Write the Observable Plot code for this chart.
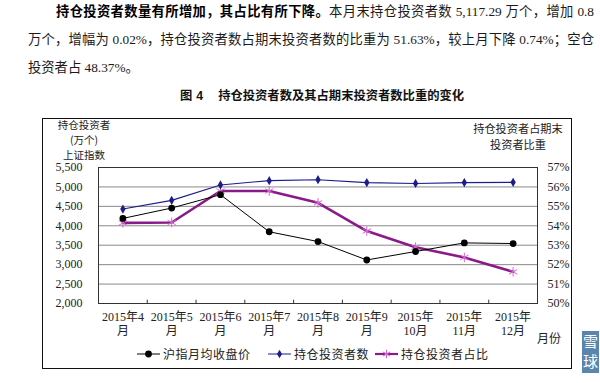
<!DOCTYPE html>
<html>
<head>
<meta charset="utf-8">
<script src="https://cdn.jsdelivr.net/npm/d3@7"></script>
<script src="https://cdn.jsdelivr.net/npm/@observablehq/plot@0.6"></script>
<style>
  html, body { margin: 0; padding: 0; background: #fff; }
  body { width: 600px; height: 383px; position: relative; overflow: hidden;
         font-family: "Liberation Serif", "Noto Sans CJK SC", serif; color: #1a1a1a; }
  .abs { position: absolute; }
  .pline { font-size: 13.3px; line-height: 18px; height: 18px; white-space: nowrap; }
  .just { text-align: justify; text-align-last: justify; white-space: normal; overflow: hidden; }
  #l1 { left: 56px; top: 2px; width: 538px; }
  #l2 { left: 28px; top: 31px; width: 566px; }
  #l3 { left: 28px; top: 59px; }
  .bold { font-family: "Noto Sans CJK SC", sans-serif; font-weight: 700; color: #000; }
  #caption { left: 180px; top: 87px; font-family: "Noto Sans CJK SC", sans-serif; font-weight: 700;
             font-size: 12.3px; line-height: 16px; color: #111; white-space: nowrap; }
  #chart { left: 42px; top: 118px; }
  #box { left: 42px; top: 118px; width: 530px; height: 251px; box-sizing: border-box;
         border: 1.5px solid #111; pointer-events: none; }
  .title { font-family: "Noto Sans CJK SC", sans-serif; font-size: 10.5px; line-height: 13px;
           text-align: center; color: #222; white-space: nowrap; }
  .tl { position: absolute; left: 0; width: 100%; height: 13px; line-height: 13px; }
  #ltitle { left: 34px; top: 118px; width: 100px; height: 44px; }
  #rtitle { left: 458px; top: 122px; width: 120px; height: 30px; font-size: 11.2px; }
  #unit { left: 537px; top: 329px; font-family: "Noto Sans CJK SC", sans-serif; font-size: 12px; color: #222; }
  #legend { left: 0; top: 346px; width: 600px; height: 16px; font-family: "Noto Sans CJK SC", sans-serif;
            font-size: 12px; letter-spacing: 0.5px; color: #222; }
  .item { position: absolute; top: 0; height: 16px; line-height: 16px; white-space: nowrap; }
  .item svg { position: absolute; left: 0; top: 0; }
  .item span { position: absolute; top: 0; }
  #badge { left: 582px; top: 331px; width: 17px; height: 42px; background: #5a86ae; color: #fff;
           font-family: "Noto Sans CJK SC", sans-serif; font-size: 15px; line-height: 20px; text-align: center; }
</style>
</head>
<body>
<div id="l1" class="abs pline just"><span class="bold">持仓投资者数量有所增加，其占比有所下降。</span><span>本月末持仓投资者数 5,117.29 万个，增加 0.8</span></div>
<div id="l2" class="abs pline just">万个，增幅为 0.02%，持仓投资者数占期末投资者数的比重为 51.63%，较上月下降 0.74%；空仓</div>
<div id="l3" class="abs pline">投资者占 48.37%。</div>
<div id="caption" class="abs"><span style="margin-right:4px">图</span><span style="margin-right:15px;font-family:'Liberation Sans',sans-serif">4</span><span>持仓投资者数及其占期末投资者数比重的变化</span></div>
<div id="chart" class="abs"></div>
<div id="box" class="abs"></div>
<div id="ltitle" class="abs title"><div class="tl" style="top:0">持仓投资者</div><div class="tl" style="top:15px">(万个)</div><div class="tl" style="top:30px">上证指数</div></div>
<div id="rtitle" class="abs title"><div class="tl" style="top:0">持仓投资者占期末</div><div class="tl" style="top:16px">投资者比重</div></div>
<div id="unit" class="abs">月份</div>
<div id="legend" class="abs"></div>
<div id="badge" class="abs">雪<br>球</div>
<script>
// ---- data ----
const monthLabels = ["2015年4\n月", "2015年5\n月", "2015年6\n月", "2015年7\n月", "2015年8\n月",
                     "2015年9\n月", "2015年\n10月", "2015年\n11月", "2015年\n12月"];
const shIndex  = [4190, 4457, 4800, 3846, 3594, 3120, 3338, 3560, 3543];       // 沪指月均收盘价
const holders  = [4430, 4654, 5051, 5162, 5185, 5111, 5089, 5111, 5117.29];    // 持仓投资者数（万个）
const share    = [54.15, 54.17, 55.79, 55.79, 55.18, 53.73, 52.90, 52.37, 51.63]; // 持仓投资者占比 %
const leftTicks = [2000, 2500, 3000, 3500, 4000, 4500, 5000, 5500];
const pctTicks  = [50, 51, 52, 53, 54, 55, 56, 57];
const seriesNames = ["沪指月均收盘价", "持仓投资者数", "持仓投资者占比"];

// percent axis mapped onto the left scale
const pctToY = p => 2000 + (p - 50) * 500;
const yToPct = v => Math.round((v - 2000) / 500 + 50);

const idx = d3.range(monthLabels.length);
const dSh = idx.map(i => ({i, v: shIndex[i]}));
const dHo = idx.map(i => ({i, v: holders[i]}));
const dPc = idx.map(i => ({i, v: pctToY(share[i])}));
const bounds = d3.range(0.5, monthLabels.length - 1, 1);

const cBlack = "#000000", cBlue = "#1c1c8a", cPurple = "#8a1a8a", cStar = "#d26ad2";

const chart = Plot.plot({
  width: 530, height: 251,
  marginLeft: 56, marginRight: 35, marginTop: 49, marginBottom: 66,
  x: {domain: [-0.5, monthLabels.length - 0.5], axis: null},
  y: {domain: [2000, 5500], axis: null},
  style: {background: "transparent", fontFamily: "'Liberation Serif','Noto Sans CJK SC',serif", fontSize: "12px", color: "#222"},
  marks: [
    Plot.ruleY(leftTicks.slice(1, -1), {stroke: "#8a8a8a", strokeWidth: 1}),
    Plot.frame({stroke: "#333", strokeWidth: 1}),
    Plot.ruleX(bounds, {y1: 2000, y2: 2085, stroke: "#333"}),
    Plot.axisY(leftTicks, {anchor: "left", tickSize: 0, tickPadding: 16, tickFormat: d3.format(","), label: null, fontSize: 12}),
    Plot.axisY(pctTicks.map(pctToY), {anchor: "right", tickSize: 0, tickPadding: 10, tickFormat: v => yToPct(v) + "%", label: null, fontSize: 12}),
    Plot.axisX(idx, {anchor: "bottom", tickSize: 0, tickPadding: 7, tickFormat: i => monthLabels[i], label: null, lineHeight: 1.2, fontSize: 12}),
    Plot.line(dPc, {x: "i", y: "v", stroke: cPurple, strokeWidth: 2.6}),
    Plot.line(dSh, {x: "i", y: "v", stroke: cBlack, strokeWidth: 1}),
    Plot.line(dHo, {x: "i", y: "v", stroke: cBlue, strokeWidth: 1.1}),
    Plot.dot(dPc, {x: "i", y: "v", symbol: "asterisk", r: 4.5, stroke: cStar, strokeWidth: 1}),
    Plot.dot(dSh, {x: "i", y: "v", symbol: "circle", r: 3.4, fill: cBlack, stroke: "none"}),
    Plot.dot(dHo, {x: "i", y: "v", symbol: "diamond", r: 2.8, fill: cBlue, stroke: "none"})
  ]
});
document.getElementById("chart").appendChild(chart);

// ---- legend ----
const legendItems = [
  {name: seriesNames[0], x: 137, line: cBlack, lw: 1, kind: "circle"},
  {name: seriesNames[1], x: 268, line: cBlue, lw: 1, kind: "diamond"},
  {name: seriesNames[2], x: 375, line: cPurple, lw: 2.2, kind: "asterisk"}
];
const leg = document.getElementById("legend");
for (const it of legendItems) {
  const div = document.createElement("div");
  div.className = "item";
  div.style.left = it.x + "px";
  const sym = d3.symbol(d3["symbol" + it.kind[0].toUpperCase() + it.kind.slice(1)],
                        it.kind === "circle" ? 36 : it.kind === "diamond" ? 22 : 50)();
  const fill = it.kind === "asterisk" ? "none" : it.line;
  const stroke = it.kind === "asterisk" ? cStar : "none";
  div.innerHTML = `<svg width="24" height="16"><line x1="0" x2="23" y1="8" y2="8" stroke="${it.line}" stroke-width="${it.lw}"/>` +
    `<path transform="translate(11.5,8)" d="${sym}" fill="${fill}" stroke="${stroke}"/></svg>` +
    `<span style="left:26px">${it.name}</span>`;
  leg.appendChild(div);
}
</script>
</body>
</html>
